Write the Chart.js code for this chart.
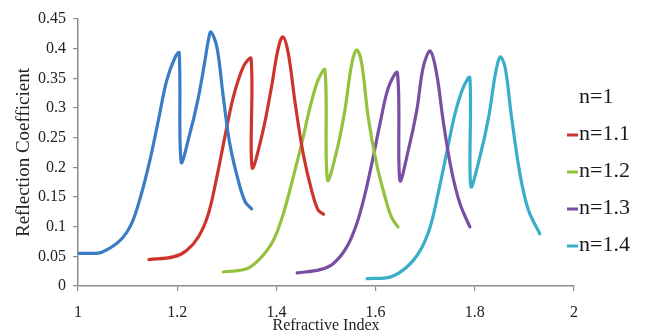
<!DOCTYPE html>
<html>
<head>
<meta charset="utf-8">
<script src="https://cdn.jsdelivr.net/npm/chart.js@4.4.0/dist/chart.umd.min.js"></script>
<style>
  html, body { margin: 0; padding: 0; background: #fff; }
  #wrap { width: 652px; height: 335px; }
</style>
</head>
<body>
<div id="wrap"><canvas id="myChart" width="652" height="335"></canvas></div>
<script>
// data ===============================================================
const seriesLabels = ["n=1", "n=1.1", "n=1.2", "n=1.3", "n=1.4"];
const seriesColors = ["#3a7cc6", "#cc352e", "#94c13e", "#7a4fa3", "#38aec9"];

const xN10 = [1.0, 1.025, 1.048, 1.085, 1.108, 1.128, 1.145, 1.162, 1.179, 1.196, 1.204, 1.208, 1.225, 1.242, 1.255, 1.263, 1.268, 1.280, 1.293, 1.306, 1.323, 1.337, 1.350];
const yN10 = [0.055, 0.055, 0.057, 0.077, 0.105, 0.156, 0.212, 0.279, 0.347, 0.386, 0.393, 0.209, 0.255, 0.315, 0.375, 0.415, 0.428, 0.403, 0.318, 0.240, 0.178, 0.142, 0.130];

const xN11 = [1.143, 1.192, 1.219, 1.243, 1.263, 1.280, 1.296, 1.313, 1.333, 1.349, 1.351, 1.372, 1.390, 1.403, 1.413, 1.424, 1.438, 1.454, 1.471, 1.484, 1.495];
const yN11 = [0.0445, 0.049, 0.060, 0.083, 0.122, 0.184, 0.251, 0.318, 0.369, 0.383, 0.200, 0.258, 0.335, 0.398, 0.420, 0.392, 0.307, 0.223, 0.161, 0.128, 0.121];

const xN12 = [1.293, 1.340, 1.367, 1.394, 1.414, 1.434, 1.451, 1.468, 1.484, 1.498, 1.503, 1.522, 1.538, 1.552, 1.562, 1.572, 1.585, 1.602, 1.619, 1.632, 1.645];
const yN12 = [0.0236, 0.029, 0.046, 0.077, 0.122, 0.184, 0.240, 0.302, 0.347, 0.364, 0.179, 0.229, 0.296, 0.375, 0.398, 0.375, 0.285, 0.206, 0.150, 0.116, 0.0995];

const xN13 = [1.442, 1.488, 1.515, 1.542, 1.562, 1.579, 1.595, 1.609, 1.626, 1.644, 1.649, 1.666, 1.683, 1.696, 1.710, 1.723, 1.737, 1.753, 1.770, 1.790];
const yN13 = [0.022, 0.0276, 0.038, 0.066, 0.105, 0.156, 0.217, 0.274, 0.335, 0.359, 0.178, 0.229, 0.296, 0.369, 0.396, 0.358, 0.274, 0.195, 0.139, 0.0995];

const xN14 = [1.583, 1.629, 1.663, 1.690, 1.710, 1.726, 1.743, 1.760, 1.777, 1.790, 1.792, 1.810, 1.828, 1.841, 1.851, 1.861, 1.874, 1.891, 1.908, 1.931];
const yN14 = [0.0125, 0.015, 0.032, 0.060, 0.0995, 0.156, 0.223, 0.290, 0.335, 0.351, 0.168, 0.217, 0.285, 0.355, 0.386, 0.369, 0.285, 0.189, 0.128, 0.088];

const xTickLabels = ["1", "1.2", "1.4", "1.6", "1.8", "2"];
const yTickLabels = ["0", "0.05", "0.1", "0.15", "0.2", "0.25", "0.3", "0.35", "0.4", "0.45"];

// chart ===============================================================
const serif = "'Liberation Serif', 'Times New Roman', serif";
const axisColor = "#8c8c8c";

function toPoints(xs, ys) {
    return xs.map((x, i) => ({ x: x, y: ys[i] }));
}

function sideLegend() {
    return {
        id: 'sideLegend',
        afterDraw: (chart) => {
            const ctx = chart.ctx;
            ctx.save();
            ctx.font = "22px " + serif;
            ctx.textBaseline = "middle";
            ctx.fillStyle = "#1a1a1a";
            chart.data.datasets.forEach((ds, i) => {
                const y = 97 + i * 37;
                // first entry has no marker in the original
                if (i > 0) {
                    ctx.strokeStyle = ds.borderColor;
                    ctx.lineWidth = 3;
                    ctx.beginPath();
                    ctx.moveTo(567, y + 1);
                    ctx.lineTo(578, y + 1);
                    ctx.stroke();
                }
                ctx.fillText(ds.label, 579, y);
            });
            ctx.restore();
        }
    };
}

const allX = [xN10, xN11, xN12, xN13, xN14];
const allY = [yN10, yN11, yN12, yN13, yN14];

let datasets = seriesLabels.map((lab, i) => ({
    label: lab,
    data: toPoints(allX[i], allY[i]),
    borderColor: seriesColors[i],
    backgroundColor: seriesColors[i],
    borderWidth: 3.2,
    pointRadius: 0,
    fill: false,
    tension: 0.35,
    borderCapStyle: 'round',
    borderJoinStyle: 'round',
}));

let options = {
    responsive: false,
    animation: false,
    layout: { padding: { top: 19, right: 78, bottom: 0, left: 0 } },
    plugins: {
        legend: { display: false },
        tooltip: { enabled: false },
    },
    scales: {
        x: {
            type: 'linear',
            min: 1,
            max: 2,
            ticks: {
                stepSize: 0.2,
                padding: 12,
                color: "#222",
                font: { family: serif, size: 16 },
                callback: (v, i) => xTickLabels[i],
            },
            grid: { drawOnChartArea: false, drawTicks: true, tickLength: 5, color: axisColor, lineWidth: 1.2 },
            border: { color: axisColor, width: 1.5 },
            title: {
                display: true,
                text: "Refractive Index",
                color: "#222",
                font: { family: serif, size: 16 },
                padding: { top: 0, bottom: 0 },
            },
            afterFit: (scale) => { scale.height = 49; },
        },
        y: {
            min: 0,
            max: 0.45,
            ticks: {
                stepSize: 0.05,
                padding: 7,
                color: "#222",
                font: { family: serif, size: 16 },
                callback: (v, i) => yTickLabels[i],
            },
            grid: { drawOnChartArea: false, drawTicks: true, tickLength: 5, color: axisColor, lineWidth: 1.2 },
            border: { color: axisColor, width: 1.5 },
            title: {
                display: true,
                text: "Reflection Coefficient",
                color: "#222",
                font: { family: serif, size: 19 },
                padding: { top: 13, bottom: 0 },
            },
            afterFit: (scale) => { scale.width = 78; },
        },
    },
};

example = new Chart(document.getElementById("myChart"), {
    type: "line",
    data: { datasets: datasets },
    options: options,
    plugins: [sideLegend()]
});
</script>
</body>
</html>
